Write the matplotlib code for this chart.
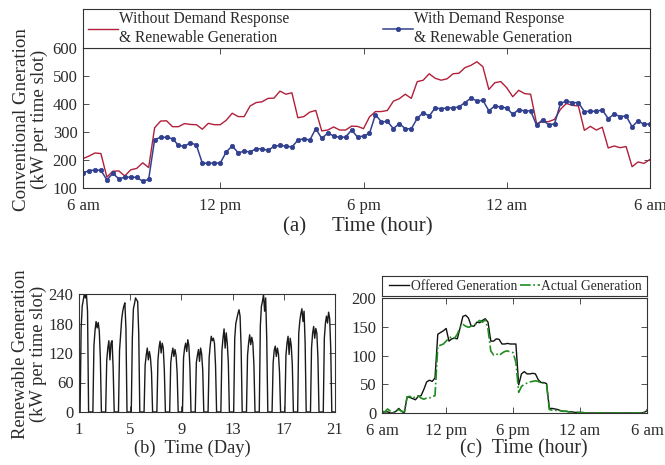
import numpy as np
import matplotlib.pyplot as plt

plt.rcParams['font.family'] = ['Liberation Serif', 'DejaVu Serif']
plt.rcParams['font.size'] = 12

TXT = '#2b2b2b'

# (a) conventional generation, 15-min slots from 6 am
without_dr = [205, 214, 225, 223, 139, 160, 161, 143, 165, 170, 190, 173, 315, 339, 340, 319,
              319, 330, 327, 326, 310, 331, 326, 326, 342, 367, 355, 355, 393, 405, 408, 420,
              421, 446, 435, 440, 351, 355, 371, 377, 304, 307, 318, 307, 307, 321, 320, 312,
              354, 373, 373, 377, 410, 419, 435, 420, 480, 485, 508, 492, 485, 490, 508, 510,
              530, 538, 551, 533, 452, 476, 480, 458, 426, 449, 437, 435, 330, 337, 337, 345,
              381, 402, 395, 393, 306, 320, 307, 317, 243, 250, 244, 248, 176, 193, 188, 202]
with_dr = [155, 161, 165, 163, 129, 152, 133, 138, 139, 138, 124, 131, 273, 281, 281, 276,
           252, 249, 262, 253, 188, 189, 189, 189, 229, 250, 226, 231, 229, 240, 240, 234,
           249, 252, 250, 246, 271, 276, 271, 312, 277, 296, 286, 281, 282, 307, 282, 286,
           295, 362, 336, 338, 312, 330, 312, 311, 349, 369, 357, 386, 383, 386, 386, 390,
           405, 421, 411, 413, 376, 393, 389, 386, 363, 380, 375, 376, 324, 344, 326, 329,
           402, 410, 405, 405, 373, 374, 374, 379, 348, 364, 355, 357, 319, 340, 327, 329]

# (b) renewable generation, 20 days, 2-hour samples
renew_days = [
    [0, 0, 170, 215, 228, 240, 232, 238, 205, 0, 0, 0],
    [0, 0, 135, 165, 184, 171, 182, 165, 110, 0, 0, 0],
    [0, 0, 105, 130, 145, 106, 140, 145, 90, 0, 0, 0],
    [0, 0, 125, 155, 188, 205, 215, 222, 170, 0, 0, 0],
    [0, 0, 150, 210, 220, 232, 228, 225, 160, 0, 0, 0],
    [0, 0, 95, 115, 130, 106, 123, 110, 80, 0, 0, 0],
    [0, 0, 105, 130, 144, 120, 140, 130, 85, 0, 0, 0],
    [0, 0, 100, 118, 130, 113, 127, 115, 80, 0, 0, 0],
    [0, 0, 110, 130, 140, 123, 147, 135, 90, 0, 0, 0],
    [0, 0, 100, 115, 127, 103, 130, 118, 85, 0, 0, 0],
    [0, 0, 110, 135, 154, 145, 150, 140, 95, 0, 0, 0],
    [0, 0, 125, 150, 169, 130, 161, 140, 100, 0, 0, 0],
    [0, 0, 150, 180, 190, 200, 208, 195, 130, 0, 0, 0],
    [0, 0, 115, 140, 157, 137, 152, 140, 95, 0, 0, 0],
    [0, 0, 175, 215, 225, 239, 205, 232, 150, 0, 0, 0],
    [0, 0, 100, 125, 134, 113, 130, 118, 80, 0, 0, 0],
    [0, 0, 115, 140, 154, 117, 150, 135, 95, 0, 0, 0],
    [0, 0, 160, 185, 200, 210, 184, 205, 140, 0, 0, 0],
    [0, 0, 130, 160, 174, 150, 170, 160, 110, 0, 0, 0],
    [0, 0, 150, 180, 195, 181, 203, 190, 130, 0, 0, 0],
]

# (c) offered vs actual generation, 15-min slots from 6 am
offered = [1, 2, 2, 0, 0, 3, 8, 3, 0,
           28, 27, 25, 23, 29, 30, 41, 54, 57, 55, 61,
           137, 140, 143, 147, 125, 129, 130, 129, 148, 168, 170, 165, 151, 151, 158, 157,
           161, 164, 158, 125, 125, 129, 128, 120, 120, 121, 120, 120,
           120, 49, 68, 72, 68, 68, 69, 68, 58, 53, 53, 51, 8, 8, 7, 6, 4, 3, 3, 2, 2,
           1, 1, 1, 0, 0, 0, 0, 0, 0, 0, 0, 0, 0, 0, 0, 0, 0, 0, 0, 0, 0, 0, 0, 0, 0, 1,
           4]
actual = [3, 2, 7, 3, 1, 3, 6, 3, 2,
          28, 29, 25, 29, 30, 26, 24, 26, 26, 29, 30,
          116, 118, 120, 125, 130, 133, 130, 137, 149, 154, 151, 149, 151, 152, 157, 161,
          158, 162, 146, 108, 101, 103, 100, 104, 107, 108, 106, 105,
          88, 36, 46, 50, 52, 54, 55, 56, 55, 52, 52, 49, 6, 5, 5, 4, 4, 3, 3, 2, 2,
          1, 1, 1, 1, 0, 0, 0, 0, 0, 0, 0, 0, 0, 0, 0, 0, 0, 0, 0, 0, 0, 0, 0, 0, 0, 1,
          6]

hour_ticks = [1, 24, 48, 72, 96]
hour_labels = ['6 am', '12 pm', '6 pm', '12 am', '6 am']

W, H = 665, 465


def rect(l, t, r, b):
    return [l / W, 1 - b / H, (r - l) / W, (b - t) / H]


def style(ax, xpad=7):
    for s in ax.spines.values():
        s.set_color('#333333')
        s.set_linewidth(0.8)
    ax.tick_params(direction='in', top=True, right=True, length=4, width=0.6,
                   colors='#333333', labelcolor=TXT, labelsize=12)
    ax.tick_params(axis='x', pad=xpad)
    ax.tick_params(axis='y', pad=4)


fig = plt.figure(figsize=(6.65, 4.65), dpi=100)

# ---- (a)
ax1 = fig.add_axes(rect(83, 48, 650, 188))
x96 = np.arange(1, len(without_dr) + 1)
ax1.plot(x96, without_dr, color='#B0203A', lw=1.0,
         label='Without Demand Response\n& Renewable Generation')
ax1.plot(x96, with_dr, color='#32418F', lw=1.1, marker='o', ms=3.2, mew=0.5,
         label='With Demand Response\n& Renewable Generation')
ax1.set_xlim(1, 96)
ax1.set_ylim(100, 600)
ax1.set_xticks(hour_ticks, hour_labels)
ax1.set_yticks(range(100, 601, 100))
style(ax1)
ax1.set_ylabel('Conventional Gneration\n(kW per time slot)', color=TXT,
               fontsize=13.7, linespacing=1.05)
ax1.yaxis.set_label_coords(-0.062, 0.49)
ax1.set_xlabel('(a)     Time (hour)', color=TXT, fontsize=15)
ax1.xaxis.set_label_coords(0.485, -0.21)

lg1 = fig.add_axes(rect(83, 9, 650, 48))
lg1.set_xticks([])
lg1.set_yticks([])
style(lg1)
lg1.tick_params(top=False, right=False, left=False, bottom=False)
h, l = ax1.get_legend_handles_labels()
lg1.legend(h, l, ncol=2, loc='center left', bbox_to_anchor=(0, 0.5), frameon=False,
           fontsize=11.2, handlelength=1.9, handletextpad=0.12, columnspacing=6.0,
           borderpad=0.2, borderaxespad=0.12, labelcolor=TXT)

# ---- (b)
ax2 = fig.add_axes(rect(79, 294, 335, 412))
renew = np.concatenate(renew_days + [[0]])
xd = 1 + np.arange(len(renew)) / 12
ax2.plot(xd, renew, color='#1a1a1a', lw=1.0)
ax2.set_xlim(1, 21)
ax2.set_ylim(0, 240)
ax2.set_xticks([1, 5, 9, 13, 17, 21])
ax2.set_yticks([0, 60, 120, 180, 240])
style(ax2, xpad=7)
ax2.set_ylabel('Renewable Generation\n(kW per time slot)', color=TXT,
               fontsize=13.3, linespacing=1.05)
ax2.yaxis.set_label_coords(-0.125, 0.49)
ax2.set_xlabel('(b)  Time (Day)', color=TXT, fontsize=13.3)
ax2.xaxis.set_label_coords(0.441, -0.235)

# ---- (c)
ax3 = fig.add_axes(rect(382, 298, 647, 413))
ax3.plot(x96, offered, color='#111111', lw=1.0, label='Offered Generation')
ax3.plot(x96, actual, color='#1E8C1E', lw=1.2, ls='-.', label='Actual Generation')
ax3.set_xlim(1, 96)
ax3.set_ylim(0, 200)
ax3.set_xticks(hour_ticks, hour_labels)
ax3.set_yticks([0, 50, 100, 150, 200])
style(ax3, xpad=7)
ax3.set_xlabel('(c)  Time (hour)', color=TXT, fontsize=14.3)
ax3.xaxis.set_label_coords(0.536, -0.225)

lg3 = fig.add_axes(rect(382, 276, 647, 296))
lg3.set_xticks([])
lg3.set_yticks([])
style(lg3)
lg3.tick_params(top=False, right=False, left=False, bottom=False)
h, l = ax3.get_legend_handles_labels()
lg3.legend(h, l, ncol=2, loc='center left', bbox_to_anchor=(0, 0.5), frameon=False,
           fontsize=9.8, handlelength=1.5, handletextpad=0.1, columnspacing=0.2,
           borderaxespad=0.1, labelcolor=TXT)

fig.savefig('out.png', dpi=100)
